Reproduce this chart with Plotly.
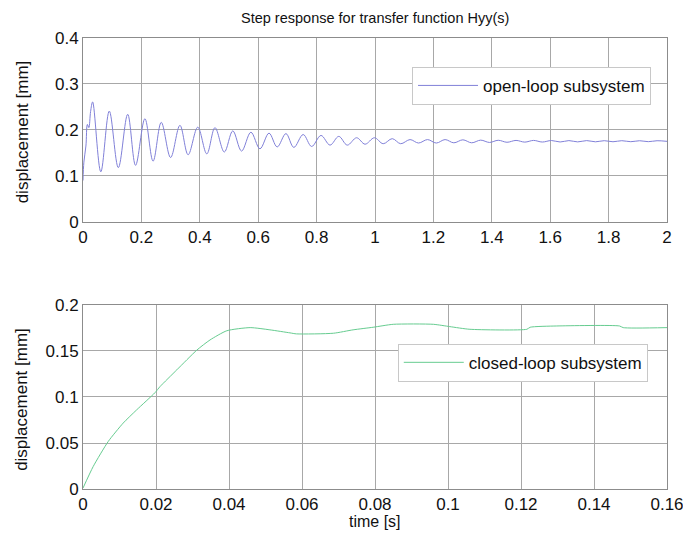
import plotly.graph_objects as go

# ---- data ----
t_open = [0.000, 0.003, 0.010, 0.015, 0.020, 0.026, 0.033,
          0.061, 0.090, 0.121, 0.153, 0.180, 0.212, 0.240, 0.268, 0.300, 0.332,
          0.360, 0.393, 0.424, 0.452, 0.484, 0.513, 0.543, 0.575, 0.606, 0.637,
          0.665, 0.695, 0.722, 0.754, 0.783, 0.815, 0.846, 0.876, 0.905, 0.937,
          0.966, 0.998, 1.028, 1.059, 1.088, 1.120, 1.149, 1.180, 1.210, 1.240,
          1.270, 1.301, 1.331, 1.362, 1.392, 1.422, 1.452, 1.483, 1.513, 1.543,
          1.573, 1.604, 1.634, 1.664, 1.694, 1.725, 1.755, 1.785, 1.815, 1.845,
          1.876, 1.906, 1.936, 1.966, 2.000]
y_open = [0.090, 0.130, 0.165, 0.212, 0.205, 0.240, 0.261,
          0.109, 0.241, 0.118, 0.234, 0.123, 0.2245, 0.132, 0.2165, 0.140, 0.210,
          0.146, 0.206, 0.148, 0.205, 0.152, 0.198, 0.154, 0.195, 0.159, 0.193,
          0.163, 0.192, 0.162, 0.190, 0.164, 0.188, 0.167, 0.186, 0.167, 0.183,
          0.169, 0.183, 0.170, 0.181, 0.170, 0.179, 0.1715, 0.179, 0.1715, 0.179,
          0.172, 0.1785, 0.172, 0.1778, 0.1728, 0.1775, 0.1732, 0.1772, 0.1735, 0.1772,
          0.1737, 0.1770, 0.1738, 0.1768, 0.1740, 0.1768, 0.1742, 0.1766, 0.1743, 0.1766,
          0.1744, 0.1765, 0.1745, 0.1765, 0.1752]

t_closed = [0.0, 0.0028, 0.0069, 0.0110, 0.0147, 0.0197, 0.0211, 0.0257, 0.0312,
            0.0348, 0.0394, 0.0458, 0.0512, 0.0567, 0.0585, 0.0686, 0.0740, 0.0795,
            0.0850, 0.0960, 0.1005, 0.1060, 0.1216, 0.1225, 0.1298, 0.1470, 0.1480,
            0.1600]
y_closed = [0.001, 0.0245, 0.0516, 0.0716, 0.0860, 0.1046, 0.1113, 0.1295, 0.1510,
            0.1620, 0.1720, 0.1754, 0.1730, 0.1697, 0.1686, 0.1693, 0.1730, 0.1758,
            0.1790, 0.1790, 0.1765, 0.1736, 0.1736, 0.1758, 0.1772, 0.1772, 0.1754,
            0.1754]

top_xticks = [0, 0.2, 0.4, 0.6, 0.8, 1, 1.2, 1.4, 1.6, 1.8, 2]
top_yticks = [0, 0.1, 0.2, 0.3, 0.4]
bot_xticks = [0, 0.02, 0.04, 0.06, 0.08, 0.1, 0.12, 0.14, 0.16]
bot_yticks = [0, 0.05, 0.1, 0.15, 0.2]

FONT = "Liberation Sans, Arial, sans-serif"
GRID = "#a8a8a8"
FRAME = "#8c8c8c"

fig = go.Figure()
fig.add_trace(go.Scatter(x=t_open, y=y_open, mode="lines", name="open-loop subsystem",
                         line=dict(color="#8080d8", width=1, shape="spline", smoothing=1.0),
                         xaxis="x", yaxis="y", legend="legend"))
fig.add_trace(go.Scatter(x=t_closed, y=y_closed, mode="lines", name="closed-loop subsystem",
                         line=dict(color="#66cc90", width=1, shape="spline", smoothing=0.6),
                         xaxis="x2", yaxis="y2", legend="legend2"))

axcommon = dict(showgrid=True, gridcolor=GRID, gridwidth=1, showline=True, linecolor=FRAME,
                linewidth=1, mirror=True, zeroline=False, ticks="", automargin=False,
                ticklabeloverflow="allow",
                tickfont=dict(family=FONT, size=17, color="#111"))

fig.update_layout(
    width=683, height=541,
    margin=dict(l=83, r=16, t=37.5, b=51.7, autoexpand=False),
    paper_bgcolor="white", plot_bgcolor="white",
    showlegend=True,
    xaxis=dict(domain=[0, 1], anchor="y", range=[0, 2], tickvals=top_xticks, **axcommon),
    yaxis=dict(domain=[0.5923, 1], anchor="x", range=[0, 0.4], tickvals=top_yticks, **axcommon),
    xaxis2=dict(domain=[0, 1], anchor="y2", range=[0, 0.16], tickvals=bot_xticks,
                ticktext=[f"{v:g}" for v in bot_xticks], **axcommon),
    yaxis2=dict(domain=[0, 0.408], anchor="x2", range=[0, 0.2], tickvals=bot_yticks,
                ticktext=[f"{v:g}" for v in bot_yticks], **axcommon),
    legend=dict(x=0.5634, y=0.936, xanchor="left", yanchor="top", bgcolor="white",
                bordercolor="#c8c8c8", borderwidth=1, itemwidth=60,
                font=dict(family=FONT, size=17, color="#111")),
    legend2=dict(x=0.539, y=0.322, xanchor="left", yanchor="top", bgcolor="white",
                 bordercolor="#c8c8c8", borderwidth=1, itemwidth=60,
                 font=dict(family=FONT, size=17, color="#111")),
    annotations=[
        dict(text="Step response for transfer function Hyy(s)", xref="paper", yref="paper",
             x=0.5, y=(489.3 - 17) / 451.8, showarrow=False, xanchor="center", yanchor="middle",
             font=dict(family=FONT, size=14.5, color="#111")),
        dict(text="displacement [mm]", xref="paper", yref="paper", textangle=-90,
             x=(22 - 83) / 584, y=(489.3 - 132) / 451.8, showarrow=False,
             xanchor="center", yanchor="middle", font=dict(family=FONT, size=17, color="#111")),
        dict(text="displacement [mm]", xref="paper", yref="paper", textangle=-90,
             x=(22 - 83) / 584, y=(489.3 - 400) / 451.8, showarrow=False,
             xanchor="center", yanchor="middle", font=dict(family=FONT, size=17, color="#111")),
        dict(text="time [s]", xref="paper", yref="paper",
             x=0.5, y=(489.3 - 522) / 451.8, showarrow=False, xanchor="center", yanchor="middle",
             font=dict(family=FONT, size=16, color="#111")),
    ],
)

fig.write_html("out.html")
